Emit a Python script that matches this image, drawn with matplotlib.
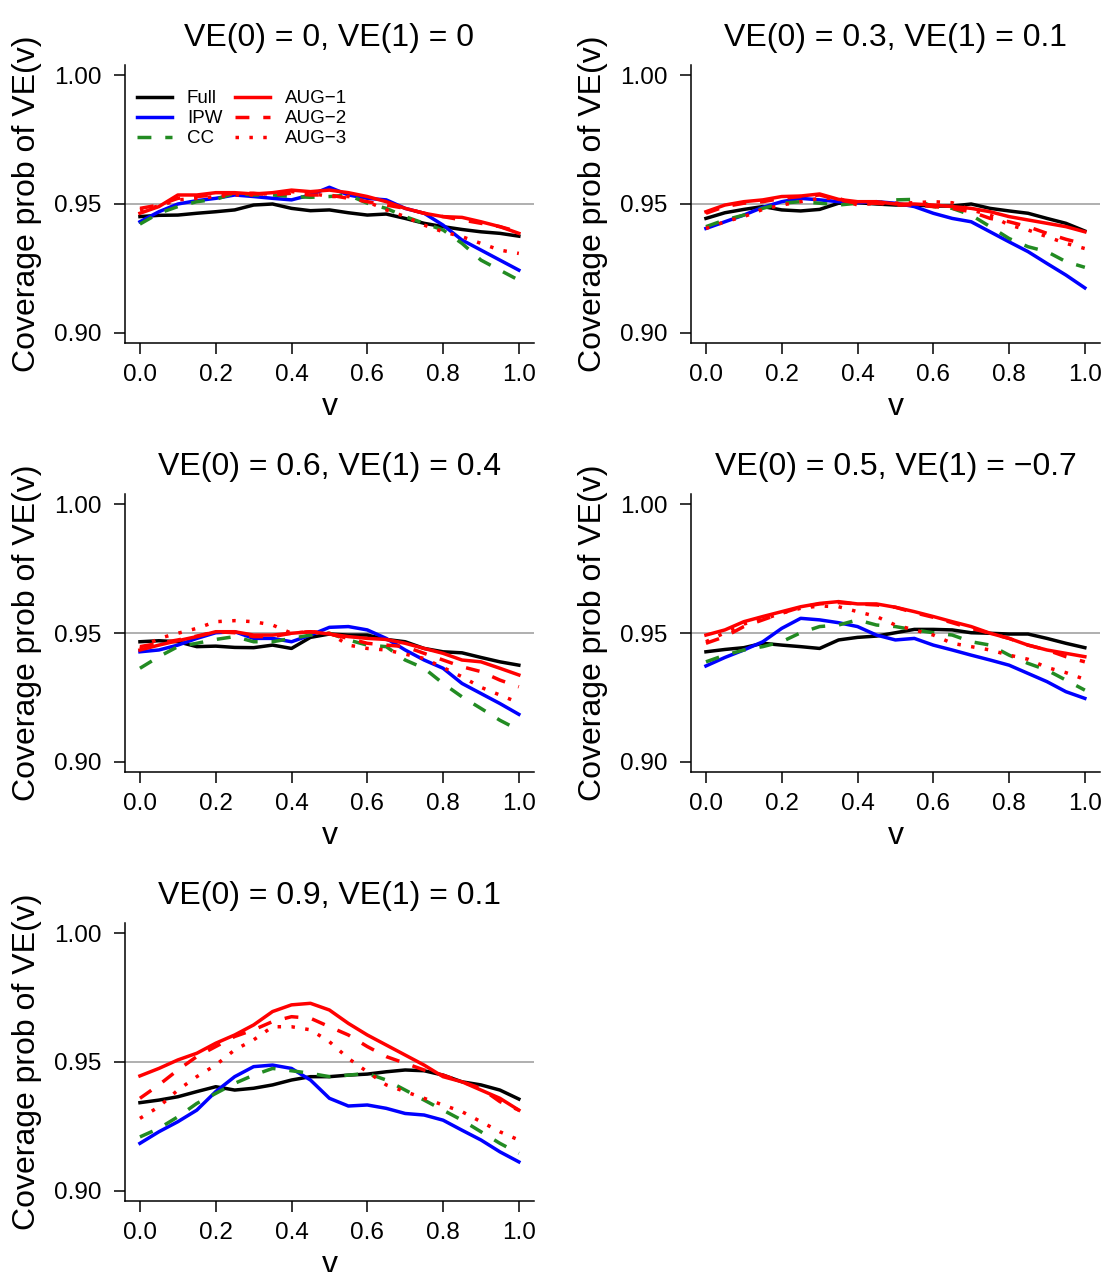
import matplotlib
matplotlib.use("Agg")
import matplotlib.pyplot as plt

plt.rcParams['font.family'] = ['Liberation Sans', 'DejaVu Sans']

v = [0.00, 0.05, 0.10, 0.15, 0.20, 0.25, 0.30, 0.35, 0.40, 0.45, 0.50,
     0.55, 0.60, 0.65, 0.70, 0.75, 0.80, 0.85, 0.90, 0.95, 1.00]

titles = ["VE(0) = 0, VE(1) = 0",
          "VE(0) = 0.3, VE(1) = 0.1",
          "VE(0) = 0.6, VE(1) = 0.4",
          "VE(0) = 0.5, VE(1) = \u22120.7",
          "VE(0) = 0.9, VE(1) = 0.1"]

series_names = ["Full", "IPW", "CC", "AUG\u22121", "AUG\u22122", "AUG\u22123"]

# Panel 1
p1_full = [0.9451, 0.9456, 0.9457, 0.9464, 0.9470, 0.9477, 0.9496, 0.9500, 0.9483, 0.9474, 0.9477,
           0.9466, 0.9457, 0.9461, 0.9444, 0.9425, 0.9412, 0.9401, 0.9392, 0.9386, 0.9375]
p1_ipw = [0.9431, 0.9470, 0.9500, 0.9513, 0.9522, 0.9535, 0.9529, 0.9522, 0.9516, 0.9535, 0.9565,
          0.9535, 0.9522, 0.9516, 0.9483, 0.9464, 0.9418, 0.9360, 0.9321, 0.9282, 0.9243]
p1_cc = [0.9422, 0.9464, 0.9490, 0.9509, 0.9518, 0.9542, 0.9535, 0.9535, 0.9529, 0.9526, 0.9529,
         0.9535, 0.9503, 0.9483, 0.9451, 0.9425, 0.9399, 0.9347, 0.9282, 0.9243, 0.9204]
p1_aug1 = [0.9464, 0.9490, 0.9535, 0.9535, 0.9544, 0.9544, 0.9539, 0.9544, 0.9554, 0.9548, 0.9554,
           0.9544, 0.9529, 0.9509, 0.9483, 0.9464, 0.9451, 0.9448, 0.9431, 0.9412, 0.9386]
p1_aug2 = [0.9483, 0.9496, 0.9522, 0.9529, 0.9535, 0.9542, 0.9542, 0.9535, 0.9542, 0.9535, 0.9535,
           0.9522, 0.9509, 0.9496, 0.9483, 0.9464, 0.9451, 0.9438, 0.9425, 0.9412, 0.9392]
p1_aug3 = [0.9477, 0.9492, 0.9516, 0.9522, 0.9529, 0.9535, 0.9535, 0.9542, 0.9548, 0.9542, 0.9529,
           0.9529, 0.9509, 0.9477, 0.9451, 0.9418, 0.9392, 0.9373, 0.9347, 0.9321, 0.9308]

# Panel 2
p2_full = [0.9444, 0.9466, 0.9479, 0.9490, 0.9477, 0.9473, 0.9479, 0.9503, 0.9505, 0.9500, 0.9496,
           0.9496, 0.9492, 0.9492, 0.9500, 0.9483, 0.9473, 0.9464, 0.9444, 0.9425, 0.9395]
p2_ipw = [0.9405, 0.9431, 0.9457, 0.9487, 0.9509, 0.9522, 0.9516, 0.9509, 0.9505, 0.9509, 0.9503,
          0.9490, 0.9464, 0.9444, 0.9431, 0.9392, 0.9353, 0.9315, 0.9269, 0.9224, 0.9174]
p2_cc = [0.9412, 0.9438, 0.9457, 0.9483, 0.9503, 0.9509, 0.9503, 0.9496, 0.9503, 0.9503, 0.9516,
         0.9518, 0.9490, 0.9483, 0.9457, 0.9412, 0.9366, 0.9334, 0.9315, 0.9276, 0.9254]
p2_aug1 = [0.9470, 0.9496, 0.9509, 0.9516, 0.9529, 0.9531, 0.9539, 0.9518, 0.9509, 0.9509, 0.9500,
           0.9500, 0.9496, 0.9490, 0.9483, 0.9470, 0.9451, 0.9438, 0.9425, 0.9412, 0.9392]
p2_aug2 = [0.9464, 0.9490, 0.9503, 0.9509, 0.9522, 0.9529, 0.9535, 0.9516, 0.9503, 0.9503, 0.9496,
           0.9496, 0.9490, 0.9483, 0.9470, 0.9444, 0.9431, 0.9412, 0.9386, 0.9363, 0.9344]
p2_aug3 = [0.9405, 0.9431, 0.9451, 0.9479, 0.9496, 0.9509, 0.9522, 0.9522, 0.9496, 0.9503, 0.9503,
           0.9505, 0.9509, 0.9505, 0.9477, 0.9457, 0.9418, 0.9399, 0.9373, 0.9347, 0.9327]

# Panel 3
p3_full = [0.9466, 0.9470, 0.9466, 0.9447, 0.9449, 0.9444, 0.9443, 0.9453, 0.9440, 0.9483, 0.9496,
           0.9492, 0.9492, 0.9475, 0.9466, 0.9440, 0.9427, 0.9423, 0.9405, 0.9388, 0.9375]
p3_ipw = [0.9427, 0.9434, 0.9453, 0.9479, 0.9501, 0.9505, 0.9479, 0.9479, 0.9466, 0.9492, 0.9522,
          0.9525, 0.9512, 0.9479, 0.9434, 0.9395, 0.9363, 0.9304, 0.9265, 0.9226, 0.9184]
p3_cc = [0.9363, 0.9408, 0.9447, 0.9460, 0.9475, 0.9486, 0.9466, 0.9466, 0.9479, 0.9492, 0.9499,
         0.9473, 0.9453, 0.9447, 0.9395, 0.9363, 0.9304, 0.9252, 0.9207, 0.9161, 0.9123]
p3_aug1 = [0.9434, 0.9453, 0.9470, 0.9486, 0.9505, 0.9505, 0.9492, 0.9492, 0.9499, 0.9505, 0.9496,
           0.9486, 0.9479, 0.9475, 0.9460, 0.9440, 0.9421, 0.9395, 0.9388, 0.9363, 0.9337]
p3_aug2 = [0.9447, 0.9460, 0.9473, 0.9488, 0.9505, 0.9501, 0.9486, 0.9486, 0.9499, 0.9505, 0.9496,
           0.9479, 0.9460, 0.9453, 0.9447, 0.9421, 0.9395, 0.9369, 0.9350, 0.9317, 0.9291]
p3_aug3 = [0.9440, 0.9479, 0.9499, 0.9518, 0.9544, 0.9548, 0.9544, 0.9531, 0.9499, 0.9505, 0.9499,
           0.9453, 0.9440, 0.9434, 0.9418, 0.9401, 0.9366, 0.9330, 0.9289, 0.9259, 0.9229]

# Panel 4
p4_full = [0.9427, 0.9436, 0.9443, 0.9460, 0.9453, 0.9447, 0.9440, 0.9473, 0.9483, 0.9488, 0.9501,
           0.9514, 0.9514, 0.9512, 0.9501, 0.9499, 0.9496, 0.9496, 0.9479, 0.9460, 0.9443]
p4_ipw = [0.9372, 0.9405, 0.9434, 0.9466, 0.9518, 0.9557, 0.9551, 0.9540, 0.9525, 0.9492, 0.9473,
          0.9479, 0.9453, 0.9434, 0.9414, 0.9395, 0.9375, 0.9343, 0.9311, 0.9272, 0.9246]
p4_cc = [0.9388, 0.9414, 0.9434, 0.9447, 0.9466, 0.9501, 0.9525, 0.9531, 0.9551, 0.9531, 0.9525,
         0.9512, 0.9501, 0.9492, 0.9466, 0.9453, 0.9414, 0.9382, 0.9356, 0.9317, 0.9278]
p4_aug1 = [0.9492, 0.9512, 0.9544, 0.9564, 0.9583, 0.9602, 0.9615, 0.9622, 0.9613, 0.9613, 0.9600,
           0.9583, 0.9564, 0.9544, 0.9525, 0.9499, 0.9479, 0.9453, 0.9434, 0.9421, 0.9408]
p4_aug2 = [0.9460, 0.9486, 0.9525, 0.9551, 0.9577, 0.9600, 0.9613, 0.9618, 0.9613, 0.9609, 0.9600,
           0.9579, 0.9561, 0.9540, 0.9518, 0.9499, 0.9479, 0.9453, 0.9434, 0.9408, 0.9388]
p4_aug3 = [0.9466, 0.9501, 0.9535, 0.9553, 0.9577, 0.9596, 0.9605, 0.9602, 0.9583, 0.9564, 0.9531,
           0.9512, 0.9492, 0.9460, 0.9447, 0.9434, 0.9414, 0.9398, 0.9366, 0.9346, 0.9320]

# Panel 5
p5_full = [0.9342, 0.9352, 0.9365, 0.9385, 0.9404, 0.9391, 0.9398, 0.9411, 0.9430, 0.9443, 0.9443,
           0.9449, 0.9453, 0.9462, 0.9469, 0.9466, 0.9449, 0.9423, 0.9411, 0.9391, 0.9356]
p5_ipw = [0.9184, 0.9229, 0.9268, 0.9313, 0.9385, 0.9443, 0.9482, 0.9488, 0.9475, 0.9430, 0.9359,
          0.9329, 0.9333, 0.9320, 0.9300, 0.9294, 0.9274, 0.9235, 0.9197, 0.9151, 0.9112]
p5_cc = [0.9209, 0.9242, 0.9287, 0.9339, 0.9378, 0.9417, 0.9449, 0.9475, 0.9466, 0.9456, 0.9443,
         0.9449, 0.9456, 0.9430, 0.9391, 0.9352, 0.9313, 0.9274, 0.9229, 0.9184, 0.9145]
p5_aug1 = [0.9446, 0.9475, 0.9508, 0.9534, 0.9573, 0.9605, 0.9644, 0.9696, 0.9722, 0.9728, 0.9702,
           0.9650, 0.9605, 0.9566, 0.9527, 0.9488, 0.9443, 0.9423, 0.9391, 0.9359, 0.9313]
p5_aug2 = [0.9359, 0.9411, 0.9469, 0.9521, 0.9560, 0.9599, 0.9625, 0.9657, 0.9676, 0.9670, 0.9637,
           0.9605, 0.9560, 0.9521, 0.9495, 0.9469, 0.9449, 0.9423, 0.9398, 0.9346, 0.9313]
p5_aug3 = [0.9281, 0.9326, 0.9391, 0.9443, 0.9488, 0.9547, 0.9586, 0.9637, 0.9637, 0.9625, 0.9579,
           0.9514, 0.9462, 0.9411, 0.9385, 0.9359, 0.9333, 0.9307, 0.9268, 0.9229, 0.9197]

panels = [
    [p1_full, p1_ipw, p1_cc, p1_aug1, p1_aug2, p1_aug3],
    [p2_full, p2_ipw, p2_cc, p2_aug1, p2_aug2, p2_aug3],
    [p3_full, p3_ipw, p3_cc, p3_aug1, p3_aug2, p3_aug3],
    [p4_full, p4_ipw, p4_cc, p4_aug1, p4_aug2, p4_aug3],
    [p5_full, p5_ipw, p5_cc, p5_aug1, p5_aug2, p5_aug3],
]

xticks = [0.0, 0.2, 0.4, 0.6, 0.8, 1.0]
yticks = [0.90, 0.95, 1.00]
ref_line = 0.95

colors = ["black", "#0000FF", "#228B22", "#FF0000", "#FF0000", "#FF0000"]
styles = ["solid", "solid", "dashed", "solid", "dashed", "dotted"]
dash_map = {"solid": None, "dashed": (4, 4), "dotted": (1, 3)}

W, H = 1105, 1272
fig = plt.figure(figsize=(W / 100, H / 100), dpi=100)

col_left = [124.8, 690.8]
row_top = [65, 494, 923]
aw, ah = 409.2, 278

lw = 2.5
for i, series in enumerate(panels):
    r, c = divmod(i, 2)
    left = col_left[c]
    top = row_top[r]
    ax = fig.add_axes([left / W, 1 - (top + ah) / H, aw / W, ah / H])
    ax.axhline(ref_line, color="#9a9a9a", lw=1.1, zorder=1)
    for k, ys in enumerate(series):
        ln, = ax.plot(v, ys, color=colors[k], lw=lw, label=series_names[k], zorder=2 + k)
        d = dash_map[styles[k]]
        if d is not None:
            ln.set_dashes(d)
    ax.set_xlim(-0.04, 1.04)
    ax.set_ylim(0.896, 1.004)
    ax.set_xticks(xticks)
    ax.set_xticklabels(["%.1f" % t for t in xticks])
    ax.set_yticks(yticks)
    ax.set_yticklabels(["%.2f" % t for t in yticks])
    for s in ["top", "right"]:
        ax.spines[s].set_visible(False)
    for s in ["left", "bottom"]:
        ax.spines[s].set_linewidth(1.1)
    ax.tick_params(axis="both", length=8, width=1.1, labelsize=17.5, direction="out")
    ax.tick_params(axis="x", pad=7)
    ax.tick_params(axis="y", pad=9)
    ax.set_title(titles[i], fontsize=23, pad=14)
    ax.set_xlabel("v", fontsize=23)
    ax.set_ylabel("Coverage prob of VE(v)", fontsize=23)
    ax.yaxis.set_label_coords(-0.202, 0.5)
    ax.xaxis.set_label_coords(0.5, -0.175)
    if i == 0:
        ax.legend(ncol=2, loc="upper left", bbox_to_anchor=(0.03, 0.91),
                  frameon=False, fontsize=13.5, handlelength=1.85, handletextpad=0.8,
                  columnspacing=0.7, labelspacing=0.16, borderpad=0, borderaxespad=0)

fig.savefig("out.png", dpi=100)
